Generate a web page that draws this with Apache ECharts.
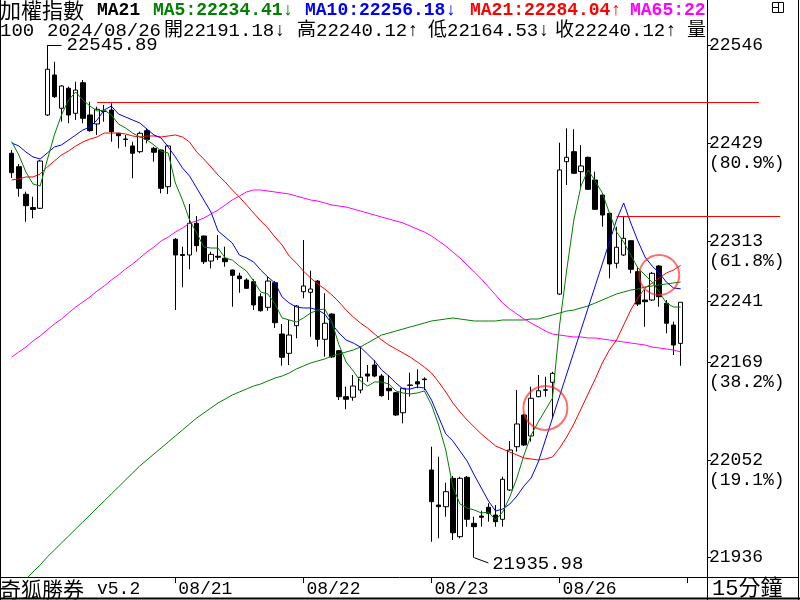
<!DOCTYPE html>
<html>
<head>
<meta charset="utf-8">
<title>加權指數 15分鐘</title>
<script src="https://cdn.jsdelivr.net/npm/echarts@6/dist/echarts.min.js"></script>
<style>
html, body { margin: 0; padding: 0; background: #fff; }
#main { width: 800px; height: 600px; }
</style>
</head>
<body>
<div id="main"></div>
<script>
// 15 minute bars, 18 per session
var times = ['09:15','09:30','09:45','10:00','10:15','10:30','10:45','11:00','11:15',
             '11:30','11:45','12:00','12:15','12:30','12:45','13:00','13:15','13:30'];
var fullDays = ['08/20','08/21','08/22','08/23','08/26'];
var tickDays = ['08/21','08/22','08/23','08/26','08/27'];
var labelDays = ['08/21','08/22','08/23','08/26'];

// fibonacci levels on the price axis
var fibValues = [21936, 22052, 22169, 22241, 22313, 22429, 22546];
var fibPct = ['', '19.1%', '38.2%', '', '61.8%', '80.9%', ''];

var opens = [22417.5,22401.5,22368.7,22352.9,22352.0,22463.1,22510.7,22471.1,22494.9,22465.1,
  22501.5,22463.1,22452.4,22467.8,22469.0,22441.3,22434.5,22426.2,22419.4,22444.4,
  22423.4,22421.4,22377.7,22315.1,22297.0,22296.4,22334.1,22319.0,22289.2,22294.9,
  22292.5,22278.5,22271.4,22266.6,22264.6,22246.7,22234.1,22263.4,22202.3,22179.3,
  22212.2,22252.7,22252.0,22265.4,22196.0,22226.1,22182.4,22127.7,22127.0,22135.6,
  22154.7,22165.4,22152.3,22137.7,22132.4,22108.6,22141.6,22145.5,22148.7,22040.4,
  21998.7,21996.7,22030.5,21961.0,22031.7,21976.9,21985.6,21996.0,21986.8,21981.7,
  22016.6,22068.1,22105.9,22080.9,22127.7,22135.3,22144.8,22249.9,22407.5,22419.4,
  22395.6,22412.7,22385.7,22367.8,22346.0,22286.5,22296.4,22313.4,22276.5,22242.8,
  22242.8,22283.3,22238.9,22213.0,22191.18];
var closes = [22394.4,22375.8,22355.1,22350.6,22408.3,22517.5,22484.9,22497.6,22463.1,22492.8,
  22459.1,22444.4,22469.9,22467.2,22443.2,22438.4,22434.0,22417.5,22441.3,22434.1,
  22418.7,22375.8,22426.2,22296.4,22295.8,22334.1,22307.5,22288.4,22297.2,22293.8,
  22288.4,22272.2,22268.2,22256.7,22236.9,22230.1,22265.4,22215.8,22174.6,22201.1,
  22235.7,22259.5,22255.9,22196.0,22215.1,22175.0,22127.7,22124.6,22140.4,22150.8,
  22152.3,22152.3,22128.9,22134.8,22105.9,22137.7,22141.2,22142.8,22148.0,22002.7,
  21996.7,22014.6,21965.7,22030.5,21981.7,21972.9,21984.1,21988.8,21978.9,22029.3,
  22064.2,22095.2,22070.2,22125.8,22134.8,22136.0,22155.5,22397.6,22412.7,22393.7,
  22402.4,22374.6,22350.8,22344.0,22285.7,22305.6,22316.3,22279.4,22238.0,22240.8,
  22274.6,22246.7,22215.1,22189.2,22240.12];
var lows = [22388.1,22365.8,22336.0,22340.1,22351.2,22461.9,22483.3,22455.1,22453.2,22457.1,
  22453.2,22443.2,22439.3,22455.1,22431.3,22423.4,22425.3,22387.7,22417.5,22429.4,
  22407.5,22369.8,22369.0,22230.9,22257.9,22279.4,22300.3,22285.7,22280.5,22290.4,
  22282.5,22234.8,22251.5,22255.9,22230.9,22228.9,22230.1,22209.5,22164.6,22165.4,
  22197.2,22244.8,22199.1,22187.2,22175.3,22173.8,22123.7,22112.7,22122.9,22131.7,
  22145.5,22150.8,22127.7,22123.7,22104.7,22096.0,22127.7,22137.7,22135.6,21955.0,
  21959.1,21984.8,21957.1,21959.1,21972.9,21935.98,21972.9,21978.9,21972.9,21972.9,
  22015.4,22062.2,22069.0,22074.1,22127.0,22127.7,22101.9,22248.8,22379.7,22392.8,
  22375.8,22374.0,22350.0,22330.1,22268.6,22280.5,22295.2,22274.6,22235.7,22211.0,
  22241.6,22234.8,22203.2,22177.3,22164.53];
var highs = [22421.4,22404.7,22371.8,22365.8,22409.5,22545.89,22526.5,22498.8,22496.8,22502.7,
  22504.7,22478.9,22473.0,22475.0,22477.0,22441.6,22439.3,22431.3,22443.2,22447.2,
  22425.3,22422.0,22427.4,22316.6,22306.3,22357.1,22342.8,22319.5,22300.3,22320.2,
  22306.3,22279.0,22275.3,22268.6,22267.5,22250.8,22270.5,22265.4,22214.2,22219.0,
  22236.9,22314.2,22277.7,22266.6,22250.8,22227.0,22183.3,22139.6,22153.5,22187.2,
  22165.4,22171.4,22154.7,22153.5,22133.3,22138.0,22156.3,22160.3,22150.8,22068.1,
  22056.2,22025.3,22033.3,22032.4,22033.3,21984.8,21991.9,22000.8,21998.7,22032.4,
  22074.9,22135.6,22107.1,22139.6,22153.5,22151.5,22157.4,22430.1,22447.2,22446.1,
  22427.4,22413.5,22395.6,22368.5,22347.0,22330.0,22342.8,22314.0,22282.5,22254.7,
  22276.1,22284.5,22242.8,22217.0,22240.12];

var ma5 = [22431.3,22415.5,22395.2,22380.9,22378.5,22409.5,22439.3,22463.1,22480.9,22490.5,
  22480.9,22473.8,22467.8,22469.0,22463.1,22452.4,22447.6,22441.6,22436.9,22433.3,
  22427.4,22420.2,22417.8,22382.1,22361.9,22338.1,22322.6,22305.9,22304.7,22304.7,
  22292.8,22290.4,22283.3,22277.3,22265.4,22252.3,22250.0,22238.1,22221.4,22219.0,
  22216.6,22221.4,22227.3,22230.9,22232.1,22216.6,22189.2,22169.0,22158.3,22146.4,
  22140.4,22145.2,22145.2,22142.8,22134.5,22132.1,22130.9,22132.1,22134.5,22117.8,
  22094.0,22064.2,22020.2,21999.9,21995.2,21992.8,21989.2,21990.4,21980.9,21990.4,
  22008.2,22030.9,22058.3,22082.1,22097.6,22111.8,22126.1,22213.0,22278.5,22338.1,
  22378.5,22397.6,22384.5,22370.2,22346.4,22323.8,22311.9,22296.4,22280.9,22272.6,
  22264.2,22252.3,22239.2,22234.5,22234.41];
var ma10 = [22429.7,22426.2,22419.0,22413.1,22410.7,22417.8,22425.0,22427.4,22433.3,22439.3,
  22445.2,22448.8,22457.1,22469.0,22473.8,22464.3,22460.7,22457.1,22453.6,22446.4,
  22439.3,22435.7,22425.0,22413.1,22400.0,22390.4,22376.2,22361.9,22347.6,22325.0,
  22317.8,22310.7,22296.4,22292.8,22288.1,22278.5,22270.2,22263.0,22246.4,22239.2,
  22234.5,22233.3,22233.3,22230.9,22226.1,22214.2,22203.5,22195.2,22191.6,22186.8,
  22178.5,22170.2,22159.5,22152.3,22144.0,22136.8,22136.8,22139.2,22138.0,22123.7,
  22103.5,22083.3,22074.9,22063.0,22051.1,22034.4,22019.0,22003.5,21991.6,21994.0,
  21999.9,22009.4,22021.4,22030.9,22049.9,22076.1,22102.3,22128.5,22154.7,22180.9,
  22207.1,22233.3,22259.5,22285.7,22311.9,22338.1,22358.3,22334.5,22313.1,22294.0,
  22283.3,22275.0,22264.2,22257.1,22256.18];
var ma21 = [22385.7,22386.9,22389.3,22389.3,22392.8,22401.2,22408.3,22415.5,22420.2,22426.2,
  22430.9,22434.5,22436.9,22441.6,22441.6,22441.6,22440.5,22438.1,22436.9,22438.1,
  22438.1,22436.9,22438.1,22439.3,22436.9,22430.9,22419.0,22410.7,22401.2,22391.6,
  22383.3,22373.8,22365.4,22355.9,22346.4,22336.9,22328.5,22317.8,22308.3,22295.2,
  22286.9,22277.3,22269.0,22261.9,22255.9,22248.8,22240.4,22230.9,22222.6,22215.4,
  22209.5,22202.3,22195.2,22189.2,22184.5,22179.7,22174.9,22169.0,22163.0,22155.9,
  22145.2,22133.3,22120.2,22109.5,22099.9,22091.6,22083.3,22076.1,22069.0,22065.4,
  22061.8,22058.3,22054.7,22053.5,22052.3,22053.5,22055.9,22066.6,22079.7,22095.2,
  22113.0,22130.9,22148.7,22167.8,22183.3,22195.2,22213.0,22230.9,22245.2,22257.1,
  22263.0,22269.0,22275.0,22278.5,22284.04];
var ma65 = [22174.9,22180.9,22186.8,22194.0,22199.9,22207.1,22214.2,22220.2,22227.3,22234.5,
  22240.4,22246.4,22253.5,22259.5,22266.6,22272.6,22279.7,22285.7,22292.8,22300.0,
  22305.9,22313.1,22317.8,22323.8,22328.5,22334.5,22336.9,22340.4,22345.2,22350.0,
  22355.9,22361.9,22366.6,22371.4,22373.8,22373.8,22372.6,22371.4,22370.2,22369.0,
  22366.6,22364.3,22361.9,22360.7,22358.3,22355.9,22354.7,22353.5,22351.2,22348.8,
  22346.4,22344.0,22341.6,22339.3,22336.9,22334.5,22330.9,22327.3,22323.8,22319.0,
  22313.1,22307.1,22300.0,22292.8,22284.5,22276.2,22267.8,22258.3,22248.8,22239.2,
  22232.1,22226.1,22220.2,22215.4,22210.7,22205.9,22202.3,22201.1,22199.9,22198.8,
  22198.8,22197.6,22197.6,22196.4,22195.2,22194.0,22192.8,22191.6,22190.4,22189.2,
  22186.8,22185.7,22184.5,22183.3,22180.9];
var maLong = [21894.0,21902.3,21910.6,21919.0,21927.3,21936.8,21945.1,21953.5,21961.8,21970.2,
  21978.5,21986.8,21995.2,22003.5,22011.8,22020.2,22028.5,22036.8,22045.2,22052.3,
  22059.5,22066.6,22073.7,22080.9,22088.0,22095.2,22102.3,22108.3,22114.2,22120.2,
  22124.9,22129.7,22133.3,22136.8,22140.4,22142.8,22146.4,22149.9,22152.3,22155.9,
  22160.7,22164.2,22167.8,22170.2,22172.6,22176.1,22178.5,22180.9,22183.3,22186.8,
  22191.6,22196.4,22201.1,22203.5,22205.9,22208.3,22210.7,22213.0,22215.4,22217.8,
  22219.0,22220.2,22221.4,22220.2,22219.0,22217.8,22217.8,22217.8,22217.8,22219.0,
  22219.0,22219.0,22219.0,22220.2,22220.2,22222.6,22225.0,22227.3,22229.7,22230.9,
  22233.3,22235.7,22239.2,22242.8,22246.4,22250.0,22252.3,22254.7,22255.9,22258.3,
  22259.5,22260.7,22261.9,22263.1,22264.2];

var FONT = '"Liberation Mono", "Noto Sans CJK TC", monospace';
var CJK = '"Noto Sans CJK TC", sans-serif';

// category slots: last 6 bars of 08/19, full sessions, then 08/27 morning
var categories = [];
for (var t = 12; t < times.length; t++) categories.push('08/19 ' + times[t]);
fullDays.forEach(function (d) {
  times.forEach(function (tm) { categories.push(d + ' ' + tm); });
});
for (var t = 0; t < 16; t++) categories.push('08/27 ' + times[t]);

// first slot stays empty
var candleData = ['-'];
for (var i = 0; i < opens.length; i++) {
  candleData.push([opens[i], closes[i], lows[i], highs[i]]);
}
function pad(arr) { return ['-'].concat(arr); }

function dayStart(list) {
  return function (idx, value) {
    return value.slice(6) === '09:15' && list.indexOf(value.slice(0, 5)) >= 0;
  };
}

function maLine(name, data, color) {
  return {
    name: name, type: 'line', data: pad(data), symbol: 'none', silent: true,
    lineStyle: { color: color, width: 1 }, itemStyle: { color: color }, z: 3
  };
}

var myChart = echarts.init(document.getElementById('main'));

var option = {
  animation: false,
  backgroundColor: '#fff',
  grid: { left: 1, right: 2, top: 0, bottom: 23 },
  xAxis: {
    type: 'category',
    data: categories,
    boundaryGap: true,
    axisLine: { lineStyle: { color: '#000', width: 1 } },
    axisTick: {
      show: true, alignWithLabel: true, length: 6, inside: false,
      interval: dayStart(tickDays), lineStyle: { color: '#000', width: 1 }
    },
    axisLabel: {
      interval: dayStart(labelDays),
      formatter: function (v) { return v.slice(0, 5); },
      align: 'left', padding: [0, 0, 0, 3], margin: 3,
      color: '#000', fontFamily: FONT, fontSize: 18
    },
    splitLine: { show: false }
  },
  yAxis: {
    type: 'value',
    position: 'right',
    offset: -91,
    min: 21913,
    max: 22600,
    splitLine: { show: false },
    axisLine: { show: true, lineStyle: { color: '#000', width: 1 } },
    axisTick: { show: true, customValues: fibValues, length: 4, lineStyle: { color: '#000' } },
    axisLabel: {
      customValues: fibValues,
      margin: 2,
      color: '#000', fontFamily: FONT, fontSize: 18, lineHeight: 20,
      formatter: function (v) {
        var i = fibValues.indexOf(v);
        if (i < 0 || !fibPct[i]) return String(v);
        return ' \n' + v + '\n(' + fibPct[i] + ')';
      }
    }
  },
  series: [{
    name: '加權指數',
    type: 'candlestick',
    data: candleData,
    barWidth: 5,
    silent: true,
    itemStyle: {
      color: '#fff', color0: '#000',
      borderColor: '#000', borderColor0: '#000', borderWidth: 1
    },
    markLine: {
      silent: true,
      symbol: ['none', 'none'],
      label: { show: false },
      data: [
        [{ coord: [13, 22478.6], lineStyle: { color: '#ff0000', width: 1, type: 'solid' } }, { coord: [106, 22478.6] }],
        [{ coord: [86, 22342.0], lineStyle: { color: '#ff0000', width: 1, type: 'solid' } }, { coord: [109, 22342.0] }],
        [{ coord: [6, 22545.89], lineStyle: { color: '#000', width: 1, type: 'solid' },
           label: { show: true, position: 'end', distance: 5, formatter: '22545.89', color: '#000', fontFamily: FONT, fontSize: 19 } },
         { coord: [8, 22545.89] }],
        [{ coord: [66, 21935.98], lineStyle: { color: '#000', width: 1, type: 'solid' },
           label: { show: true, position: 'end', distance: 4, formatter: '21935.98', color: '#000', fontFamily: FONT, fontSize: 19 } },
         { coord: [68, 21929.7] }]
      ]
    },
    markPoint: {
      silent: true,
      symbol: 'circle',
      label: { show: false },
      itemStyle: { color: 'rgba(0,0,0,0)', borderColor: 'rgba(255,30,30,0.65)', borderWidth: 2 },
      data: [
        { coord: [76, 22114.2], symbolSize: 44 },
        { coord: [92, 22272.6], symbolSize: 40 }
      ]
    }
  },
    maLine('MA130', maLong, '#008000'),
    maLine('MA65', ma65, '#ff00ff'),
    maLine('MA21', ma21, '#ff0000'),
    maLine('MA10', ma10, '#0000ff'),
    maLine('MA5', ma5, '#008000')
  ],
  graphic: [
    // header row 1
    { type: 'text', x: 0, y: 10, z: 100, style: { text: '加權指數', font: '21px ' + CJK, fill: '#000', verticalAlign: 'middle' } },
    { type: 'text', x: 97, y: 10, z: 100, style: { text: 'MA21', font: 'bold 18px ' + FONT, fill: '#000', verticalAlign: 'middle' } },
    { type: 'text', x: 153, y: 10, z: 100, style: { text: 'MA5:22234.41↓', font: 'bold 18px ' + FONT, fill: '#008000', verticalAlign: 'middle' } },
    { type: 'text', x: 305, y: 10, z: 100, style: { text: 'MA10:22256.18↓', font: 'bold 18px ' + FONT, fill: '#0000ff', verticalAlign: 'middle' } },
    { type: 'text', x: 470, y: 10, z: 100, style: { text: 'MA21:22284.04↑', font: 'bold 18px ' + FONT, fill: '#ff0000', verticalAlign: 'middle' } },
    { type: 'text', x: 630, y: 10, z: 100, style: { text: 'MA65:22', font: 'bold 18px ' + FONT, fill: '#ff00ff', verticalAlign: 'middle' } },
    // header row 2
    { type: 'text', x: 0, y: 31, z: 100, style: { text: '100', font: '19px ' + FONT, fill: '#000', verticalAlign: 'middle' } },
    { type: 'text', x: 47, y: 31, z: 100, style: { text: '2024/08/26', font: '19px ' + FONT, fill: '#000', verticalAlign: 'middle' } },
    { type: 'text', x: 164, y: 31, z: 100, style: { text: '開22191.18↓', font: '19px ' + FONT, fill: '#000', verticalAlign: 'middle' } },
    { type: 'text', x: 297, y: 31, z: 100, style: { text: '高22240.12↑', font: '19px ' + FONT, fill: '#000', verticalAlign: 'middle' } },
    { type: 'text', x: 428, y: 31, z: 100, style: { text: '低22164.53↓', font: '19px ' + FONT, fill: '#000', verticalAlign: 'middle' } },
    { type: 'text', x: 555, y: 31, z: 100, style: { text: '收22240.12↑', font: '19px ' + FONT, fill: '#000', verticalAlign: 'middle' } },
    { type: 'text', x: 687, y: 31, z: 100, style: { text: '量', font: '19px ' + FONT, fill: '#000', verticalAlign: 'middle' } },
    // right panel top, clips the header
    { type: 'rect', z: 101, shape: { x: 708, y: 0, width: 89, height: 34 }, style: { fill: '#fff' } },
    { type: 'rect', z: 102, shape: { x: 772.5, y: 2.5, width: 11, height: 10 }, style: { fill: 'none', stroke: '#000', lineWidth: 1 } },
    { type: 'line', z: 102, shape: { x1: 772.5, y1: 7.5, x2: 778.5, y2: 7.5 }, style: { stroke: '#000', lineWidth: 1 } },
    { type: 'line', z: 102, shape: { x1: 778.5, y1: 2.5, x2: 778.5, y2: 12.5 }, style: { stroke: '#000', lineWidth: 1 } },
    // footer
    { type: 'text', x: 0, y: 589, z: 100, style: { text: '奇狐勝券', font: '21px ' + CJK, fill: '#000', verticalAlign: 'middle' } },
    { type: 'text', x: 97, y: 589, z: 100, style: { text: 'v5.2', font: '18px ' + FONT, fill: '#000', verticalAlign: 'middle' } },
    { type: 'text', x: 712, y: 589, z: 100, style: { text: '15分鐘', font: '22px ' + FONT, fill: '#000', verticalAlign: 'middle' } },
    // frame
    { type: 'line', z: 100, shape: { x1: 707.5, y1: 577, x2: 707.5, y2: 600 }, style: { stroke: '#000', lineWidth: 1 } },
    { type: 'line', z: 100, shape: { x1: 0.5, y1: 0, x2: 0.5, y2: 600 }, style: { stroke: '#000', lineWidth: 1 } },
    { type: 'line', z: 100, shape: { x1: 798.5, y1: 0, x2: 798.5, y2: 600 }, style: { stroke: '#000', lineWidth: 1 } },
    { type: 'line', z: 100, shape: { x1: 0, y1: 598.5, x2: 800, y2: 598.5 }, style: { stroke: '#000', lineWidth: 2 } }
  ]
};
myChart.setOption(option);
</script>
</body>
</html>
